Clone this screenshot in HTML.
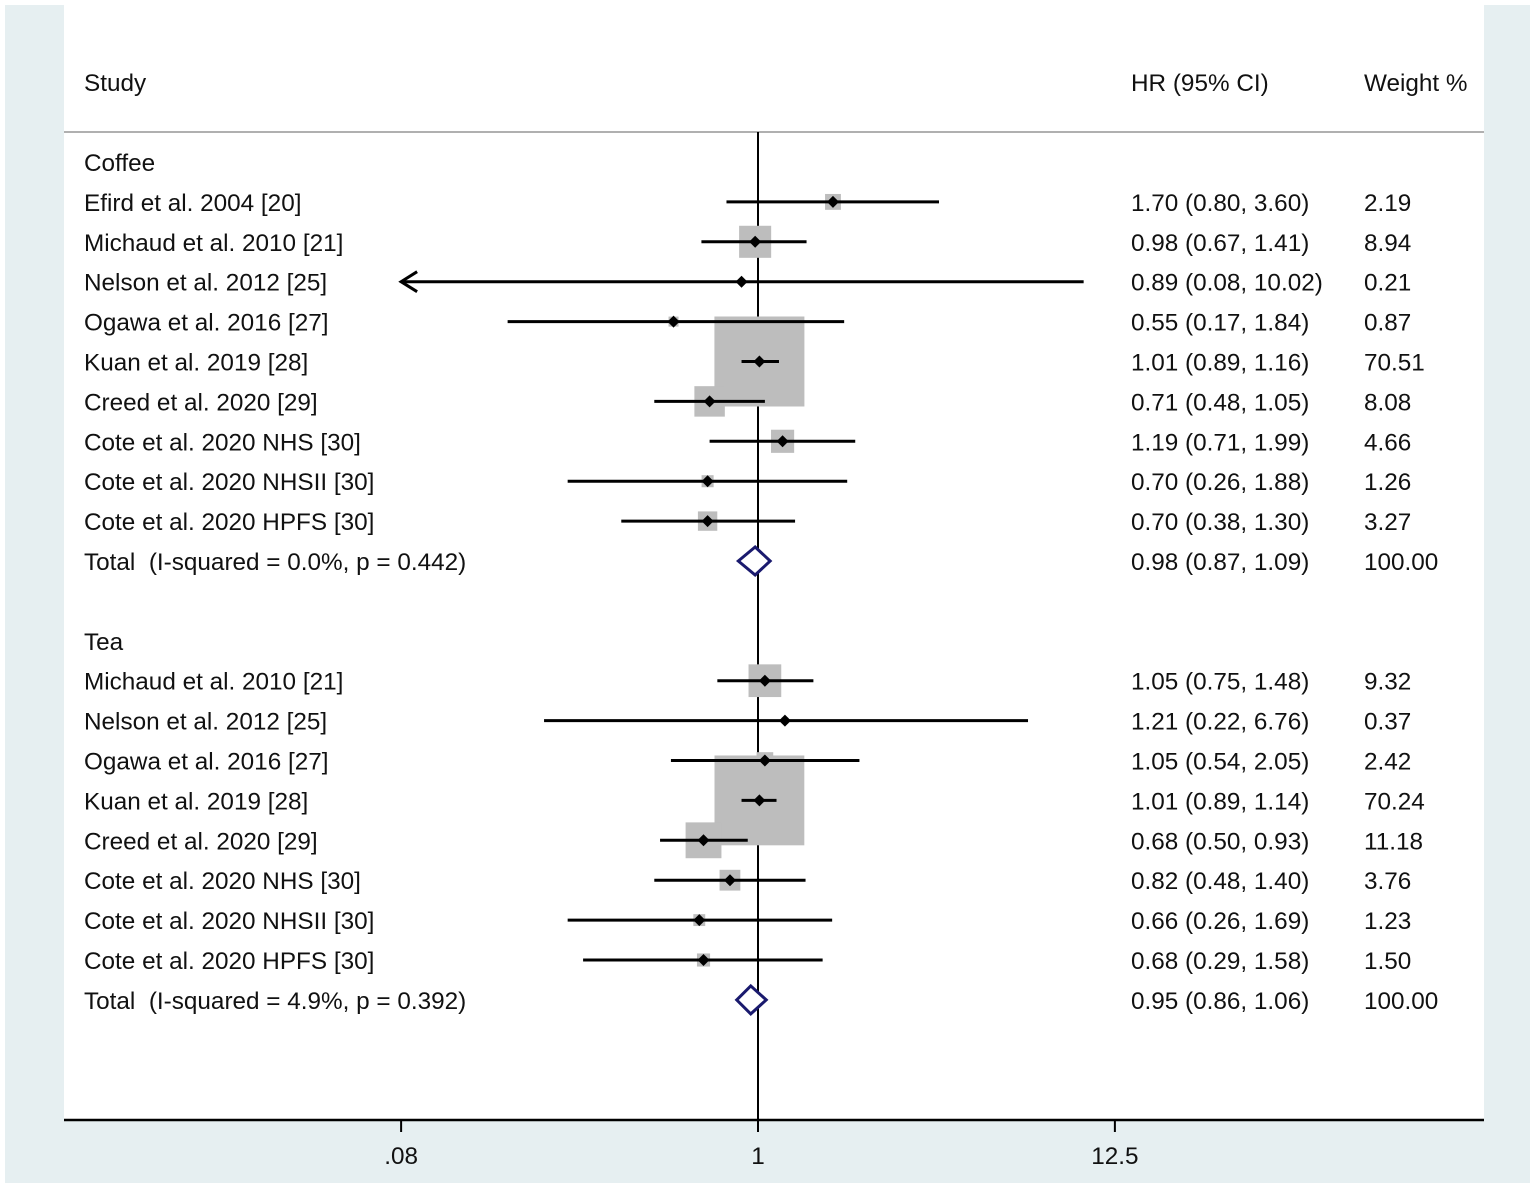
<!DOCTYPE html>
<html><head><meta charset="utf-8"><style>
body{margin:0;background:#fff;font-family:"Liberation Sans",sans-serif}
svg text{font-family:"Liberation Sans",sans-serif;font-size:24.3px;fill:#111;white-space:pre}
</style></head><body>
<svg id="c" width="1535" height="1188">
<rect x="5" y="5" width="1525" height="1178" fill="#e6eff1"/>
<rect x="64" y="5" width="1420" height="1115" fill="#fff"/>
<line x1="64" y1="132" x2="1484" y2="132" stroke="#b0b0b0" stroke-width="2"/>
<text x="84" y="91">Study</text>
<text x="1131" y="91">HR (95% CI)</text>
<text x="1364" y="91">Weight %</text>
<line x1="64" y1="1120" x2="1484" y2="1120" stroke="#000" stroke-width="2.5"/>
<g id="marks"></g>
</svg>
<script>
const studies=["Efird et al. 2004 [20]","Michaud et al. 2010 [21]","Nelson et al. 2012 [25]","Ogawa et al. 2016 [27]","Kuan et al. 2019 [28]","Creed et al. 2020 [29]","Cote et al. 2020 NHS [30]","Cote et al. 2020 NHSII [30]","Cote et al. 2020 HPFS [30]",
"Michaud et al. 2010 [21]","Nelson et al. 2012 [25]","Ogawa et al. 2016 [27]","Kuan et al. 2019 [28]","Creed et al. 2020 [29]","Cote et al. 2020 NHS [30]","Cote et al. 2020 NHSII [30]","Cote et al. 2020 HPFS [30]"];
const group=["Coffee","Coffee","Coffee","Coffee","Coffee","Coffee","Coffee","Coffee","Coffee","Tea","Tea","Tea","Tea","Tea","Tea","Tea","Tea"];
const hr=[1.70,0.98,0.89,0.55,1.01,0.71,1.19,0.70,0.70,1.05,1.21,1.05,1.01,0.68,0.82,0.66,0.68];
const lo=[0.80,0.67,0.08,0.17,0.89,0.48,0.71,0.26,0.38,0.75,0.22,0.54,0.89,0.50,0.48,0.26,0.29];
const hi=[3.60,1.41,10.02,1.84,1.16,1.05,1.99,1.88,1.30,1.48,6.76,2.05,1.14,0.93,1.40,1.69,1.58];
const weight=[2.19,8.94,0.21,0.87,70.51,8.08,4.66,1.26,3.27,9.32,0.37,2.42,70.24,11.18,3.76,1.23,1.50];
const groups=["Coffee","Tea"];
const totHr=[0.98,0.95],totLo=[0.87,0.86],totHi=[1.09,1.06];
const totLabel=["Total  (I-squared = 0.0%, p = 0.442)","Total  (I-squared = 4.9%, p = 0.392)"];
const ticks=[0.08,1,12.5],tickLabels=[".08","1","12.5"];
const X=v=>758+141.3*Math.log(v);
const ROW=39.9;
const ns="http://www.w3.org/2000/svg",svg=document.getElementById('c'),g=document.getElementById('marks');
function mk(t,a,p){const e=document.createElementNS(ns,t);for(const k in a)e.setAttribute(k,a[k]);(p||g).appendChild(e);return e;}
const f=v=>v.toFixed(2);
const rowsY=[];
let y=162;
groups.forEach((gr,gi)=>{
  const h=mk('text',{x:84,y:y+9});h.textContent=gr;
  
  
  y+=ROW;
  studies.forEach((s,i)=>{ if(group[i]!==gr)return;
    rowsY[i]=y; y+=ROW;});
  const ty=y;
  studies.forEach((s,i)=>{ if(group[i]!==gr)return;
    const yy=rowsY[i];const side=90*Math.sqrt(weight[i]/70.51);
    const b=mk('rect',{x:X(hr[i])-side/2,y:yy-side/2,width:side,height:side,fill:'#bdbdbd'});
    
    
  });
  studies.forEach((s,i)=>{ if(group[i]!==gr)return;
    const yy=rowsY[i];
    const l0=Math.max(lo[i],0.08);
    const l=mk('line',{x1:X(l0),y1:yy,x2:X(hi[i]),y2:yy,stroke:'#000','stroke-width':3});
    
    
    if(lo[i]<=0.08){const a=mk('path',{d:`M${X(l0)+16},${yy-10} L${X(l0)},${yy} L${X(l0)+16},${yy+10}`,fill:'none',stroke:'#000','stroke-width':3});
      
      }
    const d=mk('path',{d:`M${X(hr[i])-6},${yy} L${X(hr[i])},${yy-6} L${X(hr[i])+6},${yy} L${X(hr[i])},${yy+6}Z`,fill:'#000'});
    
    
    const t1=mk('text',{x:84,y:yy+9});t1.textContent=s;
    
    
    const t2=mk('text',{x:1131,y:yy+9});t2.textContent=`${f(hr[i])} (${f(lo[i])}, ${f(hi[i])})`;
    
    
    const t3=mk('text',{x:1364,y:yy+9});t3.textContent=f(weight[i]);
    
    
  });
  const cx=X(totHr[gi]);
  const dm=mk('path',{d:`M${X(totLo[gi])},${ty} L${cx},${ty-14} L${X(totHi[gi])},${ty} L${cx},${ty+14}Z`,fill:'#fff',stroke:'#1a1a6e','stroke-width':3});
  
  
  const a=mk('text',{x:84,y:ty+9});a.textContent=totLabel[gi];
  
  
  const b=mk('text',{x:1131,y:ty+9});b.textContent=`${f(totHr[gi])} (${f(totLo[gi])}, ${f(totHi[gi])})`;
  
  
  const c=mk('text',{x:1364,y:ty+9});c.textContent="100.00";
  
  
  y=ty+2*ROW;
});
const ref=mk('line',{x1:X(1),y1:132,x2:X(1),y2:1120,stroke:'#000','stroke-width':2});


g.insertBefore(ref,g.firstChild);
ticks.forEach((t,i)=>{
  const tk=mk('line',{x1:X(t),y1:1120,x2:X(t),y2:1132,stroke:'#000','stroke-width':2});
  
  
  const tl=mk('text',{x:X(t),y:1164,'text-anchor':'middle'});tl.textContent=tickLabels[i];
  
  
});
</script>
</body></html>
